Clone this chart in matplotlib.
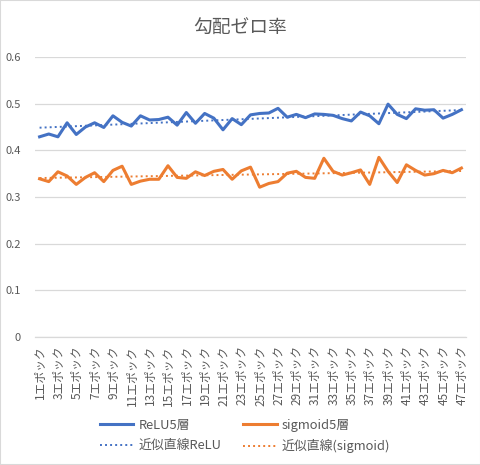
import matplotlib
matplotlib.use("Agg")
import matplotlib.pyplot as plt
import numpy as np
from matplotlib.patches import Rectangle

plt.rcParams['font.family'] = ['Noto Sans CJK JP', 'DejaVu Sans']

epochs = list(range(1, 48))
labels = [f"{e}エポック" for e in epochs]
relu = [0.429, 0.435, 0.429, 0.459, 0.434, 0.450, 0.459, 0.449, 0.474, 0.460,
        0.452, 0.474, 0.465, 0.466, 0.471, 0.454, 0.481, 0.458, 0.479, 0.469,
        0.444, 0.468, 0.455, 0.476, 0.479, 0.480, 0.490, 0.471, 0.477, 0.470,
        0.478, 0.477, 0.475, 0.468, 0.463, 0.482, 0.474, 0.457, 0.499, 0.477,
        0.468, 0.489, 0.486, 0.487, 0.469, 0.477, 0.487]
sigmoid = [0.339, 0.333, 0.354, 0.345, 0.327, 0.342, 0.352, 0.333, 0.357, 0.366,
           0.327, 0.334, 0.338, 0.338, 0.367, 0.342, 0.340, 0.354, 0.346, 0.355,
           0.359, 0.338, 0.356, 0.364, 0.321, 0.329, 0.333, 0.351, 0.355, 0.342,
           0.340, 0.383, 0.355, 0.347, 0.352, 0.358, 0.327, 0.385, 0.355, 0.331,
           0.369, 0.357, 0.347, 0.350, 0.357, 0.352, 0.362]
yticks = [0, 0.1, 0.2, 0.3, 0.4, 0.5, 0.6]
ytick_labels = ["0", "0.1", "0.2", "0.3", "0.4", "0.5", "0.6"]

BLUE = "#4472C4"
ORANGE = "#ED7D31"
TXT = "#595959"
GRID = "#D9D9D9"

W, H = 481, 465
fig = plt.figure(figsize=(W / 100, H / 100), dpi=100)
ax = fig.add_axes([35 / W, 1 - 337 / H, (466 - 35) / W, (337 - 57) / H])

x = np.array(epochs)
l1, = ax.plot(x, relu, color=BLUE, lw=2.2, solid_joinstyle='round', zorder=3)
l2, = ax.plot(x, sigmoid, color=ORANGE, lw=2.2, solid_joinstyle='round', zorder=3)
c1 = np.polyfit(x, relu, 1)
c2 = np.polyfit(x, sigmoid, 1)
t1, = ax.plot(x, np.polyval(c1, x), color=BLUE, lw=1.4, linestyle=(0, (1, 1.6)), zorder=2)
t2, = ax.plot(x, np.polyval(c2, x), color=ORANGE, lw=1.4, linestyle=(0, (1, 1.6)), zorder=2)

ax.set_xlim(0.5, 47.5)
ax.set_ylim(0, 0.6)
ax.set_yticks(yticks)
ax.set_yticklabels(ytick_labels)
ax.set_xticks(x[::2])
ax.set_xticklabels(labels[::2], rotation=90)
ax.tick_params(axis='both', length=0, colors=TXT, labelsize=8)
ax.tick_params(axis='x', labelsize=8.5)
ax.tick_params(axis='y', pad=10)
ax.tick_params(axis='x', pad=6)
ax.grid(axis='y', color=GRID, lw=0.9)
ax.set_axisbelow(True)
for s in ['top', 'right', 'left']:
    ax.spines[s].set_visible(False)
ax.spines['bottom'].set_color(GRID)
ax.spines['bottom'].set_linewidth(0.9)

fig.text(0.5, 1 - 28 / H, "勾配ゼロ率", ha='center', va='center', fontsize=13.5, color=TXT)

fig.legend([l1, t1, l2, t2], ["ReLU5層", "近似直線ReLU", "sigmoid5層", "近似直線(sigmoid)"],
           ncol=2, loc='center', bbox_to_anchor=(245 / W, 1 - 436 / H), frameon=False,
           fontsize=9.3, labelcolor=TXT, handlelength=2.6, columnspacing=1.7,
           labelspacing=0.55, handletextpad=0.4)

fig.patches.append(Rectangle((0, 0), 1, 1, transform=fig.transFigure, fill=False,
                             edgecolor=GRID, lw=1.5))

fig.savefig("out.png", dpi=100)
